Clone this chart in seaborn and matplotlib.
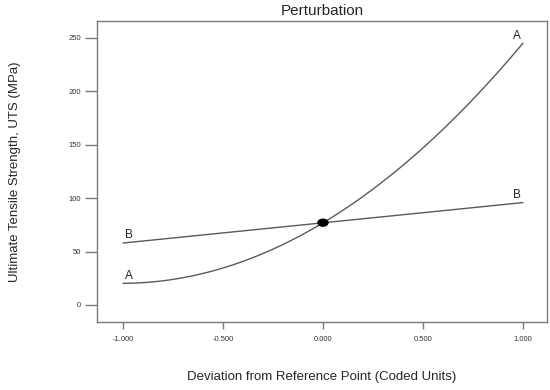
# -*- coding: utf-8 -*-
# Perturbation plot: UTS vs deviation from reference point
import numpy as np
import pandas as pd
import seaborn as sns
import matplotlib.pyplot as plt
from matplotlib.patches import Ellipse

sns.set_style("white")
plt.rcParams['font.family'] = ['Liberation Sans', 'DejaVu Sans']

# values
dev = [-1.0, -0.75, -0.5, -0.25, 0.0, 0.25, 0.5, 0.75, 1.0]
uts_a = [20, 24, 35, 52, 77, 108, 147, 193, 245]
uts_b = [58, 63, 67, 72, 77, 82, 86, 91, 96]
ref_x, ref_y = 0.0, 77
x_ticks = [-1.0, -0.5, 0.0, 0.5, 1.0]
y_ticks = [0, 50, 100, 150, 200, 250]

data = pd.DataFrame({"dev": dev, "A": uts_a, "B": uts_b})

fig = plt.figure(figsize=(5.5, 3.9), dpi=100)
ax = fig.add_axes([0.1764, 0.1744, 0.818, 0.772])

line_kw = dict(color="#5a5a5a", linewidth=1.0)
sns.regplot(data=data, x="dev", y="A", order=2, ci=None, scatter=False,
            line_kws=line_kw, ax=ax)
sns.regplot(data=data, x="dev", y="B", order=1, ci=None, scatter=False,
            line_kws=line_kw, ax=ax)

# factor labels at the ends of each trace
lab_kw = dict(ha="center", va="bottom", fontsize=8.5, color="#222222")
for col in ["A", "B"]:
    ax.text(dev[0] + 0.03, data[col].iloc[0] + 1.5, col, **lab_kw)
    ax.text(dev[-1] - 0.03, data[col].iloc[-1] + 1.5, col, **lab_kw)

ax.add_patch(Ellipse((ref_x, ref_y), 0.05, 6.5, color="black", zorder=5))

ax.set_xlim(-1.13, 1.12)
ax.set_ylim(-16, 266)
ax.set_xticks(x_ticks)
ax.set_xticklabels([f"{v:.3f}" for v in x_ticks])
ax.set_yticks(y_ticks)
ax.tick_params(axis="both", direction="out", width=1.0,
               color="#7a7a7a", labelsize=5.5, labelcolor="#333333",
               left=True, bottom=True)
ax.tick_params(axis="y", length=8.5, pad=3)
ax.tick_params(axis="x", length=5, pad=5)
for s in ax.spines.values():
    s.set_color("#7a7a7a")
    s.set_linewidth(1.0)

ax.set_title("Perturbation", fontsize=11, pad=4)
ax.set_xlabel("Deviation from Reference Point (Coded Units)", fontsize=9.5,
              labelpad=20)
ax.set_ylabel("Ultimate Tensile Strength, UTS (MPa)", fontsize=9.5,
              labelpad=34)

fig.savefig("out.png", dpi=100)
